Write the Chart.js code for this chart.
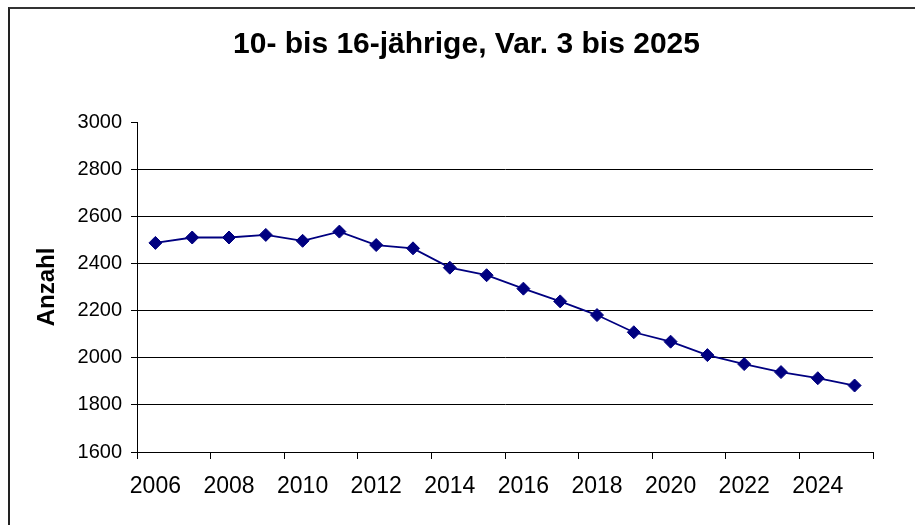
<!DOCTYPE html>
<html>
<head>
<meta charset="utf-8">
<script src="https://cdn.jsdelivr.net/npm/chart.js@4"></script>
<style>
  html, body { margin: 0; padding: 0; background: #fff; overflow: hidden; }
  #frame {
    position: absolute; left: 8px; top: 7px;
    width: 913px; height: 520px;
    border-top: 2px solid #333; border-left: 2px solid #222;
  }
  #chartBox { position: absolute; left: 0; top: 0; width: 913px; height: 516px; }
</style>
</head>
<body>
<div id="frame">
  <div id="chartBox"><canvas id="chart"></canvas></div>
</div>
<script>
// data
const years = ['2006', '2007', '2008', '2009', '2010', '2011', '2012', '2013', '2014', '2015',
               '2016', '2017', '2018', '2019', '2020', '2021', '2022', '2023', '2024', '2025'];
const anzahl = [2487, 2510, 2510, 2521, 2496, 2535, 2478, 2464, 2382, 2350,
                2293, 2239, 2181, 2108, 2068, 2011, 1973, 1939, 1913, 1882];
const yTicks = [1600, 1800, 2000, 2200, 2400, 2600, 2800, 3000];

const titleText = '10- bis 16-jährige, Var. 3 bis 2025';
const yTitle = 'Anzahl';
const navy = '#000080';
const fontFam = '"Liberation Sans", Arial, sans-serif';

new Chart(document.getElementById('chart'), {
  type: 'line',
  data: {
    labels: years,
    datasets: [{
      data: anzahl,
      borderColor: navy,
      borderWidth: 1.8,
      backgroundColor: navy,
      pointStyle: 'rectRot',
      pointRadius: 6.5,
      pointBorderWidth: 1,
      pointBorderColor: navy,
      pointBackgroundColor: navy,
      tension: 0,
      fill: false
    }]
  },
  options: {
    responsive: true,
    maintainAspectRatio: false,
    animation: false,
    layout: { padding: 0 },
    plugins: {
      legend: { display: false },
      tooltip: { enabled: false },
      title: {
        display: true,
        text: titleText,
        color: '#000',
        font: { family: fontFam, size: 30, weight: 'bold' },
        padding: { top: 18, bottom: 59 }
      }
    },
    scales: {
      x: {
        type: 'category',
        offset: true,
        afterFit: s => { s.height = 73; },
        border: { display: true, color: '#000', width: 1 },
        grid: {
          offset: true,
          drawOnChartArea: false,
          drawTicks: true,
          tickLength: 7,
          color: ctx => (ctx.index === undefined || ctx.index % 2 === 0) ? '#000' : 'rgba(0,0,0,0)'
        },
        ticks: {
          autoSkip: false,
          maxRotation: 0,
          color: '#000',
          padding: 14,
          font: { family: fontFam, size: 23 },
          callback: function (v, i) { return i % 2 === 0 ? this.getLabelForValue(v) : ''; }
        }
      },
      y: {
        min: 1600,
        max: 3000,
        afterFit: s => { s.width = 127; },
        afterBuildTicks: s => { s.ticks = yTicks.map(v => ({ value: v })); },
        border: { display: true, color: '#000', width: 1 },
        grid: {
          color: ctx => (ctx.tick && ctx.tick.value === 3000) ? 'rgba(0,0,0,0)' : '#000',
          tickColor: '#000',
          tickLength: 6,
          lineWidth: 1
        },
        ticks: {
          color: '#000',
          padding: 9,
          font: { family: fontFam, size: 20 },
          callback: v => String(v)
        },
        title: {
          display: true,
          text: yTitle,
          color: '#000',
          font: { family: fontFam, size: 24, weight: 'bold' },
          padding: { top: 23, bottom: 0 }
        }
      },
      // empty right-hand box, only keeps the plot off the right edge
      yRight: {
        position: 'right',
        display: true,
        afterFit: s => { s.width = 50; },
        border: { display: false },
        grid: { display: false },
        ticks: { display: false }
      }
    }
  }
});
</script>
</body>
</html>
